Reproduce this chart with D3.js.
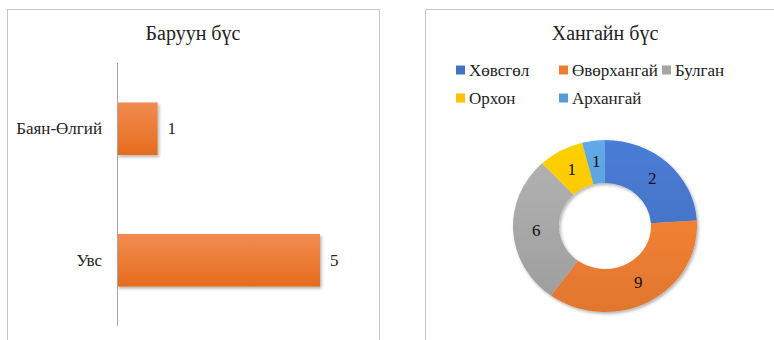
<!DOCTYPE html>
<html><head><meta charset="utf-8">
<script src="https://cdn.jsdelivr.net/npm/d3@7/dist/d3.min.js"></script>
<style>
html,body{margin:0;padding:0;background:#fff;}
svg{display:block;}
</style></head>
<body>
<svg id="c" width="774" height="340"></svg>
<script>
// ---- data ----
const westTitle = "Баруун бүс";
const westCategories = ["Баян-Өлгий", "Увс"];
const westValues = [1, 5];
const westAxisMax = 6;

const khangaiTitle = "Хангайн бүс";
const khangaiCategories = ["Хөвсгөл", "Өвөрхангай", "Булган", "Орхон", "Архангай"];
const khangaiLabels = [2, 9, 6, 1, 1];          // data labels shown on slices
const khangaiShares = [24, 36, 28, 8, 4];        // slice sizes as drawn (%)
const khangaiColors = ["#4472C4", "#ED7D31", "#A5A5A5", "#FFC000", "#5B9BD5"];

const FONT = "Liberation Serif";
const svg = d3.select("#c");
const defs = svg.append("defs");

// shadow filter
const f = defs.append("filter").attr("id","sh").attr("x","-20%").attr("y","-20%").attr("width","140%").attr("height","140%");
f.append("feDropShadow").attr("dx",1.5).attr("dy",2).attr("stdDeviation",1.6).attr("flood-color","#000").attr("flood-opacity",0.3);

// bar gradient
const bg = defs.append("linearGradient").attr("id","barg").attr("x1",0).attr("y1",0).attr("x2",0).attr("y2",1);
bg.append("stop").attr("offset","0%").attr("stop-color","#F18C52");
bg.append("stop").attr("offset","100%").attr("stop-color","#E56C1D");

// ---- panels ----
svg.append("rect").attr("x",7.5).attr("y",9.5).attr("width",372).attr("height",340)
  .attr("fill","#fff").attr("stroke","#c8c8c8").attr("stroke-width",1);
svg.append("rect").attr("x",425.5).attr("y",9.5).attr("width",360).attr("height",340)
  .attr("fill","#fff").attr("stroke","#c8c8c8").attr("stroke-width",1);

// ---- left: bar chart ----
svg.append("text").attr("x",193).attr("y",33).attr("text-anchor","middle")
  .attr("dominant-baseline","central").style("font-family",FONT).attr("font-size",20).attr("fill","#222").text(westTitle);

const x = d3.scaleLinear().domain([0, westAxisMax]).range([117, 360.6]);
const y = d3.scaleBand().domain(westCategories).range([63, 326]).paddingInner(0.6).paddingOuter(0.3);

svg.append("g").selectAll("rect").data(westCategories).join("rect")
  .attr("x", x(0)).attr("y", d => y(d))
  .attr("width", (d,i) => x(westValues[i]) - x(0)).attr("height", y.bandwidth())
  .attr("fill","url(#barg)").attr("filter","url(#sh)");

const yAxis = svg.append("g").attr("transform",`translate(${x(0)},0)`)
  .call(d3.axisLeft(y).tickSize(0).tickPadding(15));
yAxis.select(".domain").attr("stroke","#a6a6a6").attr("d","M0.5,63V326");
yAxis.selectAll("text").attr("font-size",17).attr("fill","#222").style("font-family",FONT);

svg.append("g").selectAll("text").data(westCategories).join("text")
  .attr("x", (d,i) => x(westValues[i]) + 10).attr("y", d => y(d) + y.bandwidth()/2)
  .attr("dominant-baseline","central").style("font-family",FONT).attr("font-size",17).attr("fill","#222")
  .text((d,i) => westValues[i]);

// ---- right: donut ----
svg.append("text").attr("x",605).attr("y",33).attr("text-anchor","middle")
  .attr("dominant-baseline","central").style("font-family",FONT).attr("font-size",20).attr("fill","#222").text(khangaiTitle);

// legend
const legPos = [[456,70],[559,70],[662,70],[456,98],[559,98]];
const leg = svg.append("g").selectAll("g").data(khangaiCategories).join("g")
  .attr("transform",(d,i)=>`translate(${legPos[i][0]},${legPos[i][1]})`);
leg.append("rect").attr("x",0).attr("y",-4.5).attr("width",9).attr("height",9)
  .attr("fill",(d,i)=>khangaiColors[i]);
leg.append("text").attr("x",13).attr("y",0).attr("dominant-baseline","central")
  .style("font-family",FONT).attr("font-size",17).attr("fill","#222").text(d=>d);

const cx = 605, cy = 226, R = 92, ry = 0.935;
const pie = d3.pie().sort(null).value(d => d)(khangaiShares);
const arc = d3.arc().innerRadius(R*0.5).outerRadius(R);

khangaiColors.forEach((c,i) => {
  const g = defs.append("linearGradient").attr("id","dg"+i).attr("gradientUnits","userSpaceOnUse")
    .attr("x1",0).attr("y1",-R).attr("x2",0).attr("y2",R);
  g.append("stop").attr("offset","0%").attr("stop-color", d3.color(c).brighter(0.25));
  g.append("stop").attr("offset","100%").attr("stop-color", d3.color(c).darker(0.15));
});

const dg = svg.append("g").attr("transform",`translate(${cx},${cy}) scale(1,${ry})`);
dg.append("g").attr("filter","url(#sh)").selectAll("path").data(pie).join("path")
  .attr("d", arc).attr("fill",(d,i)=>`url(#dg${i})`);

svg.append("g").selectAll("text").data(pie).join("text")
  .attr("x", d => cx + arc.centroid(d)[0])
  .attr("y", d => cy + arc.centroid(d)[1]*ry)
  .attr("text-anchor","middle").attr("dominant-baseline","central")
  .style("font-family",FONT).attr("font-size",17).attr("fill","#111")
  .text((d,i) => khangaiLabels[i]);
</script>
</body></html>
